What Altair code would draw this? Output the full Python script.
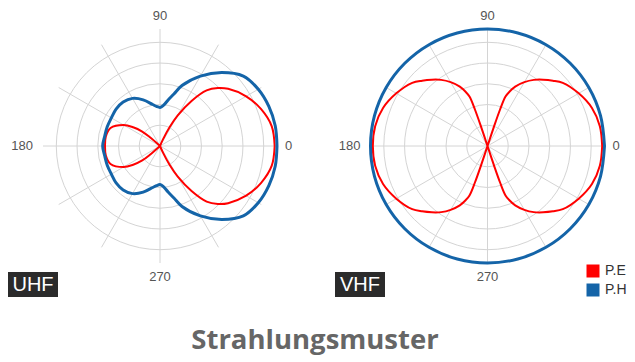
import math
import altair as alt
import pandas as pd

# ---------------- data (r normalised to outer ring = 1) ----
series_names = ["P.E", "P.H"]
series_colors = ["#ff0000", "#1464a8"]
panel_tags = ["UHF", "VHF"]

# UHF, P.E (red) : angle 0..180 (pattern is symmetric about 0-180 axis)
uhf_e_angle = [0, 10, 20, 30, 40, 45, 50, 55, 60, 63, 66, 68, 137, 139, 141, 145, 150, 160, 170, 180]
uhf_e_r = [0.98, 0.97, 0.92, 0.85, 0.76, 0.70, 0.62, 0.47, 0.30, 0.18, 0.06, 0.0, 0.0, 0.11, 0.20, 0.28, 0.36, 0.45, 0.47, 0.47]

# UHF, P.H (blue)
uhf_h_angle = [0, 10, 20, 30, 40, 50, 60, 70, 75, 80, 85, 90, 95, 100, 110, 120, 130, 140, 150, 160, 170, 180]
uhf_h_r = [1.0, 1.0, 0.99, 0.97, 0.93, 0.82, 0.69, 0.55, 0.46, 0.40, 0.35, 0.33, 0.34, 0.36, 0.42, 0.47, 0.49, 0.49, 0.48, 0.48, 0.48, 0.49]

# VHF, P.E (red)
vhf_e_angle = [0, 10, 20, 30, 40, 45, 50, 55, 60, 65, 68, 70, 71, 71.5, 72,
               108, 108.5, 109, 110, 112, 115, 120, 125, 130, 135, 140, 150, 160, 170, 180]
vhf_e_r = [0.98, 0.975, 0.95, 0.90, 0.84, 0.79, 0.74, 0.69, 0.63, 0.56, 0.50, 0.45, 0.33, 0.17, 0.0,
           0.0, 0.17, 0.33, 0.45, 0.50, 0.56, 0.63, 0.69, 0.74, 0.79, 0.84, 0.90, 0.95, 0.975, 0.98]

# VHF, P.H (blue)
vhf_h_angle = [0, 15, 30, 45, 60, 75, 90, 105, 120, 135, 150, 165, 180]
vhf_h_r = [1.0, 1.0, 1.0, 1.0, 1.0, 1.0, 1.0, 1.0, 1.0, 1.0, 1.0, 1.0, 1.0]

ring_values = [0.2, 0.4, 0.6, 0.8, 1.0]
spoke_angles = [0, 30, 60, 90, 120, 150]
label_angles = [0, 90, 180, 270]
label_texts = ["0", "90", "180", "270"]

# ---------------- layout -------------------------------------------------------------
R_PX = 117.0
H = 310
Y_DOM = [-(H - 146) / R_PX, 146 / R_PX]
LABEL_FONT = "Liberation Sans"


def full_circle(angles, radii):
    a = list(angles) + [360 - v for v in reversed(angles[1:-1])] + [360]
    r = list(radii) + list(reversed(radii[1:-1])) + [radii[0]]
    return a, r


def curves_frame(e_a, e_r, h_a, h_r):
    rows = []
    for name, aa, rr in ((series_names[0], e_a, e_r), (series_names[1], h_a, h_r)):
        a, r = full_circle(aa, rr)
        for i, (ai, ri) in enumerate(zip(a, r)):
            rows.append({"series": name, "angle": ai, "r": ri, "order": i})
    return pd.DataFrame(rows)


color_scale = alt.Scale(domain=series_names, range=series_colors)


def panel(df, tag, width, cx_px, box_x, with_legend):
    xs = alt.Scale(domain=[-cx_px / R_PX, (width - cx_px) / R_PX], nice=False, zero=False)
    ys = alt.Scale(domain=Y_DOM, nice=False, zero=False)
    X = lambda f: alt.X(f, scale=xs, axis=None)
    Y = lambda f: alt.Y(f, scale=ys, axis=None)

    rings = alt.Chart(pd.DataFrame({"ring": ring_values, "cx": 0.0, "cy": 0.0})).mark_point(
        shape="circle", filled=False, stroke="#d4d4d4", strokeWidth=1, opacity=1
    ).encode(
        x=X("cx:Q"), y=Y("cy:Q"),
        size=alt.Size("ring:Q", legend=None,
                      scale=alt.Scale(type="pow", exponent=2, domain=[0, 1],
                                      range=[0, math.pi * R_PX ** 2])),
    )

    spokes = alt.Chart(pd.DataFrame({"a": spoke_angles})).transform_calculate(
        x="cos(datum.a*PI/180)", y="sin(datum.a*PI/180)",
        x2="-cos(datum.a*PI/180)", y2="-sin(datum.a*PI/180)",
    ).mark_rule(color="#d4d4d4", strokeWidth=1).encode(
        x=X("x:Q"), y=Y("y:Q"), x2="x2:Q", y2="y2:Q"
    )

    lab_df = pd.DataFrame({"a": label_angles, "t": label_texts})
    lab_base = alt.Chart(lab_df).transform_calculate(
        x="cos(datum.a*PI/180)", y="sin(datum.a*PI/180)"
    )
    lab_style = dict(font=LABEL_FONT, fontSize=13, color="#555555")
    labels = [
        lab_base.transform_filter("datum.a == 0").mark_text(align="left", baseline="middle", dx=8, **lab_style),
        lab_base.transform_filter("datum.a == 180").mark_text(align="right", baseline="middle", dx=-10, **lab_style),
        lab_base.transform_filter("datum.a == 90").mark_text(align="center", baseline="bottom", dy=-6, **lab_style),
        lab_base.transform_filter("datum.a == 270").mark_text(align="center", baseline="top", dy=8, **lab_style),
    ]
    labels = [l.encode(x=X("x:Q"), y=Y("y:Q"), text="t:N") for l in labels]

    cbase = alt.Chart(df).transform_calculate(
        x="datum.r*cos(datum.angle*PI/180)", y="datum.r*sin(datum.angle*PI/180)"
    )
    enc = dict(x=X("x:Q"), y=Y("y:Q"), order="order:Q")
    red = cbase.transform_filter(f"datum.series == '{series_names[0]}'").mark_line(
        interpolate="catmull-rom", strokeWidth=2, color=series_colors[0]).encode(**enc)
    blue = cbase.transform_filter(f"datum.series == '{series_names[1]}'").mark_line(
        interpolate="catmull-rom", strokeWidth=3, color=series_colors[1]).encode(**enc)

    tag_df = pd.DataFrame({"tag": [tag]})
    box = alt.Chart(tag_df).mark_rect(color="#2b2b2b").encode(
        x=alt.value(box_x), x2=alt.value(box_x + 50), y=alt.value(272), y2=alt.value(297)
    )
    box_text = alt.Chart(tag_df).mark_text(
        font=LABEL_FONT, fontSize=20, color="white", align="center", baseline="middle"
    ).encode(text="tag:N", x=alt.value(box_x + 25), y=alt.value(285))

    layers = [rings, spokes, *labels, red, blue, box, box_text]
    if with_legend:
        # legend only: the series list drives the colour scale, no visible marks
        legend_layer = alt.Chart(pd.DataFrame({"series": series_names})).transform_filter(
            "false"
        ).mark_square(filled=True, size=169).encode(
            color=alt.Color("series:N", scale=color_scale,
                            legend=alt.Legend(title=None, orient="none", legendX=586, legendY=264,
                                              symbolType="square", symbolSize=169, symbolOpacity=1,
                                              symbolStrokeWidth=0,
                                              labelFont=LABEL_FONT, labelFontSize=14,
                                              labelColor="#333333", labelOffset=5, rowPadding=5)),
        )
        layers.append(legend_layer)
    return alt.layer(*layers).properties(width=width, height=H)


uhf = panel(curves_frame(uhf_e_angle, uhf_e_r, uhf_h_angle, uhf_h_r), panel_tags[0], 320, 160, 8, False)
vhf = panel(curves_frame(vhf_e_angle, vhf_e_r, vhf_h_angle, vhf_h_r), panel_tags[1], 300, 157.5, 5, True)

chart = alt.hconcat(uhf, vhf, spacing=10).resolve_scale(
    x="independent", y="independent", size="independent"
).properties(
    padding={"left": 0, "top": 0, "right": 0, "bottom": 8},
    title=alt.TitleParams(
        "Strahlungsmuster", orient="bottom", anchor="middle", font="Open Sans",
        fontSize=27.5, fontWeight="bold", color="#666666", offset=17,
    ),
).configure_view(stroke=None)

chart.save("out.html", embed_options={"renderer": "svg", "actions": False})
